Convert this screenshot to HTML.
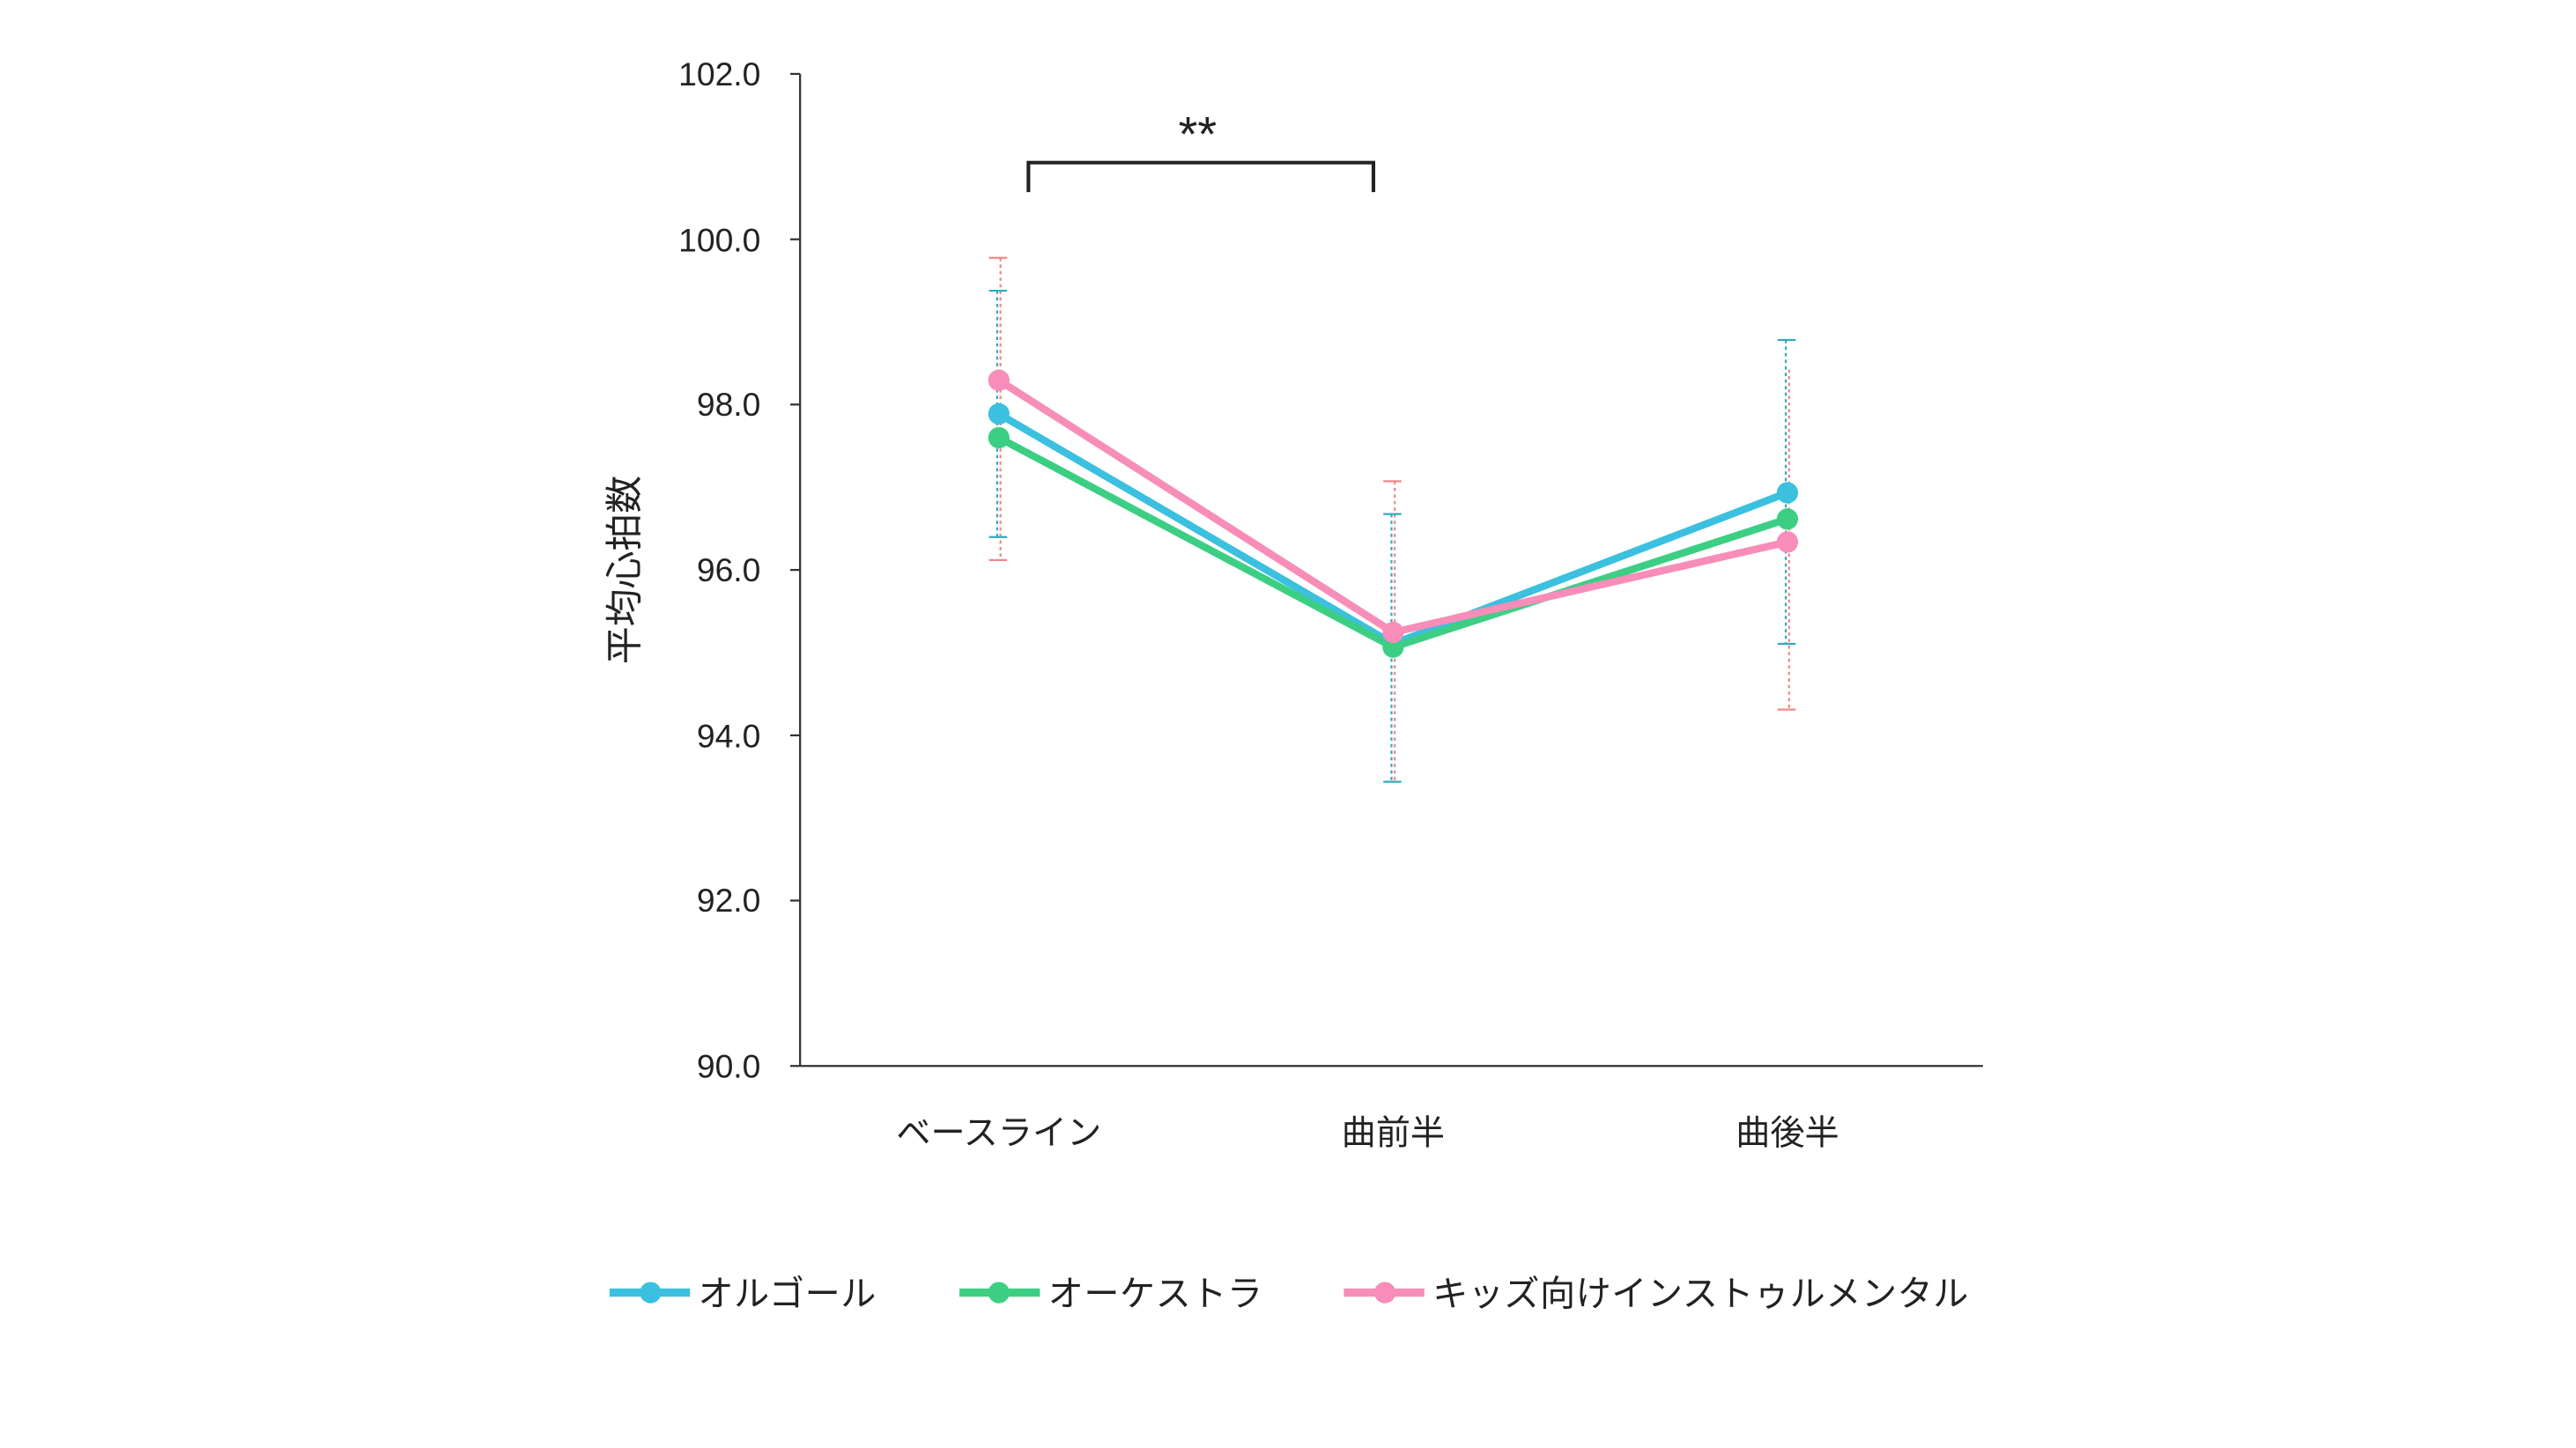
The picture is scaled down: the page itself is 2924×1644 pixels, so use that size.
<!DOCTYPE html>
<html><head><meta charset="utf-8"><style>html,body{margin:0;padding:0;background:#fff}svg{display:block}text{font-family:"Liberation Sans","Noto Sans CJK JP",sans-serif;fill:#222}</style></head>
<body>
<svg width="2924" height="1644" viewBox="0 0 1568 881.6" preserveAspectRatio="none" xmlns="http://www.w3.org/2000/svg">
<rect width="1568" height="882" fill="#fff"/>
<g stroke="#333" stroke-width="1.2">
<line x1="487" y1="45" x2="487" y2="649"/>
<line x1="481" y1="649" x2="1207" y2="649"/>
<line x1="481" y1="45" x2="487" y2="45"/><line x1="481" y1="145.7" x2="487" y2="145.7"/>
<line x1="481" y1="246.3" x2="487" y2="246.3"/><line x1="481" y1="347" x2="487" y2="347"/>
<line x1="481" y1="447.7" x2="487" y2="447.7"/><line x1="481" y1="548.3" x2="487" y2="548.3"/>
</g>
<g font-size="20" text-anchor="end">
<text x="463" y="52">102.0</text><text x="463" y="153">100.0</text><text x="463" y="253">98.0</text>
<text x="463" y="354">96.0</text><text x="463" y="455">94.0</text><text x="463" y="555">92.0</text><text x="463" y="656">90.0</text>
</g>
<text transform="translate(388,347) rotate(-90)" font-size="23" text-anchor="middle">平均心拍数</text>
<g font-size="21" text-anchor="middle">
<text x="608" y="697">ベースライン</text><text x="848" y="697">曲前半</text><text x="1088" y="697">曲後半</text>
</g>
<path d="M626 117 V99 H836 V117" fill="none" stroke="#222" stroke-width="2.2"/>
<text x="729" y="92" font-size="30" text-anchor="middle">**</text>
<g stroke-width="1.2" stroke-dasharray="2,2">
<line x1="607" y1="177" x2="607" y2="327" stroke="#3ab"/>
<line x1="609" y1="157" x2="609" y2="341" stroke="#e88"/>
<line x1="847" y1="313" x2="847" y2="477" stroke="#3ab"/>
<line x1="849" y1="293" x2="849" y2="477" stroke="#e88"/>
<line x1="1087" y1="207" x2="1087" y2="392" stroke="#3ab"/>
<line x1="1089" y1="225" x2="1089" y2="432" stroke="#e88"/>
</g>
<g stroke-width="1.2" stroke="#3ab">
<line x1="602" y1="177" x2="613" y2="177"/><line x1="602" y1="327" x2="613" y2="327"/>
<line x1="842" y1="313" x2="853" y2="313"/><line x1="842" y1="476" x2="853" y2="476"/>
<line x1="1082" y1="207" x2="1093" y2="207"/><line x1="1082" y1="392" x2="1093" y2="392"/>
</g>
<g stroke-width="1.2" stroke="#e88">
<line x1="602" y1="157" x2="613" y2="157"/><line x1="602" y1="341" x2="613" y2="341"/>
<line x1="842" y1="293" x2="853" y2="293"/><line x1="1082" y1="432" x2="1093" y2="432"/>
</g>
<g fill="none" stroke-width="4.5" stroke-linejoin="round">
<polyline points="608,252 848,392 1088,300" stroke="#3bc0e0"/>
<polyline points="608,266.5 848,394 1088,316" stroke="#3ccf84"/>
<polyline points="608,231.5 848,385 1088,330" stroke="#f78db8"/>
</g>
<g>
<circle cx="608" cy="252" r="6.5" fill="#3bc0e0"/><circle cx="848" cy="392" r="6.5" fill="#3bc0e0"/><circle cx="1088" cy="300" r="6.5" fill="#3bc0e0"/>
<circle cx="608" cy="266.5" r="6.5" fill="#3ccf84"/><circle cx="848" cy="394" r="6.5" fill="#3ccf84"/><circle cx="1088" cy="316" r="6.5" fill="#3ccf84"/>
<circle cx="608" cy="231.5" r="6.5" fill="#f78db8"/><circle cx="848" cy="385" r="6.5" fill="#f78db8"/><circle cx="1088" cy="330" r="6.5" fill="#f78db8"/>
</g>
<g stroke-width="5">
<line x1="371" y1="787" x2="420" y2="787" stroke="#3bc0e0"/><circle cx="396" cy="787" r="6.5" fill="#3bc0e0"/>
<line x1="584" y1="787" x2="633" y2="787" stroke="#3ccf84"/><circle cx="608" cy="787" r="6.5" fill="#3ccf84"/>
<line x1="818" y1="787" x2="867" y2="787" stroke="#f78db8"/><circle cx="843" cy="787" r="6.5" fill="#f78db8"/>
</g>
<g font-size="21.5" letter-spacing="0.3">
<text x="425" y="795">オルゴール</text><text x="638" y="795">オーケストラ</text><text x="872" y="795">キッズ向けインストゥルメンタル</text>
</g>
</svg>
</body></html>
